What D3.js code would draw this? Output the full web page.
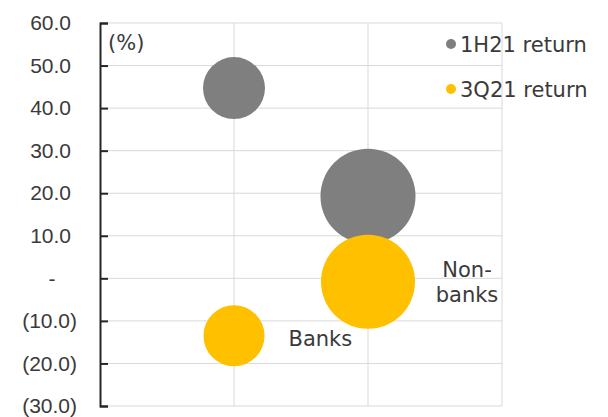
<!DOCTYPE html>
<html>
<head>
<meta charset="utf-8">
<script src="https://cdn.jsdelivr.net/npm/d3@7"></script>
<style>
  html, body { margin: 0; padding: 0; background: #fff; }
  svg { display: block; font-family: "DejaVu Sans", sans-serif; }
</style>
</head>
<body>
<svg id="chart" width="608" height="417"></svg>
<script>
'use strict';

// Bubble chart: 1H21 vs 3Q21 return, banks and non-banks.

const categories = ['Banks', 'Non-banks'];
const categoryPos = [1, 2];

const series = ['1H21 return', '3Q21 return'];
const return1H21 = [44.7, 19.3];
const return3Q21 = [-13.5, -0.8];
// relative bubble sizes
const size1H21 = [1.0, 2.35];
const size3Q21 = [0.97, 2.3];

const yTicks = [-30, -20, -10, 0, 10, 20, 30, 40, 50, 60];

const COLORS = {
  grey: '#7f7f7f',
  yellow: '#ffc000',
  grid: '#d9d9d9',
  axis: '#262626',
  text: '#3a3a3a'
};

const W = 608, H = 417;
const plot = { left: 100, right: 502, top: 23, bottom: 406 };

const svg = d3.select('#chart');

const x = d3.scaleLinear().domain([0, 3]).range([plot.left, plot.right]);
const y = d3.scaleLinear().domain([-30, 60]).range([plot.bottom, plot.top]);
const r = d3.scaleSqrt().domain([0, 1]).range([0, 31]);

// ---- grid ----
const grid = svg.append('g');
grid.selectAll('line.h').data(yTicks).join('line')
  .attr('x1', plot.left).attr('x2', plot.right)
  .attr('y1', d => y(d)).attr('y2', d => y(d))
  .attr('stroke', COLORS.grid).attr('stroke-width', 1);
grid.selectAll('line.v').data([1, 2, 3]).join('line')
  .attr('x1', d => x(d)).attr('x2', d => x(d))
  .attr('y1', plot.top).attr('y2', plot.bottom)
  .attr('stroke', COLORS.grid).attr('stroke-width', 1);

// ---- bubbles ----
const rows = [];
categories.forEach((c, i) => {
  rows.push({ cat: c, pos: categoryPos[i], val: return1H21[i], size: size1H21[i], color: COLORS.grey });
});
categories.forEach((c, i) => {
  rows.push({ cat: c, pos: categoryPos[i], val: return3Q21[i], size: size3Q21[i], color: COLORS.yellow });
});

svg.append('g').selectAll('circle').data(rows).join('circle')
  .attr('cx', d => x(d.pos))
  .attr('cy', d => y(d.val))
  .attr('r', d => r(d.size))
  .attr('fill', d => d.color);

// ---- y axis ----
function fmt(v) {
  if (v === 0) return '-';
  if (v < 0) return '(' + d3.format('.1f')(-v) + ')';
  return d3.format('.1f')(v);
}

const yAxis = svg.append('g')
  .attr('transform', `translate(${plot.left},0)`)
  .call(d3.axisLeft(y).tickValues(yTicks).tickFormat(fmt)
    .tickSizeInner(-8).tickSizeOuter(-8).tickPadding(0));

yAxis.select('.domain').attr('stroke', COLORS.axis).attr('stroke-width', 2);
yAxis.selectAll('.tick line').attr('stroke', COLORS.axis).attr('stroke-width', 2);
yAxis.selectAll('.tick text')
  .attr('fill', COLORS.text)
  .style('font-size', '21px')
  .attr('text-anchor', d => d === 0 ? 'middle' : 'end')
  .attr('x', d => d === 0 ? -48 : (d < 0 ? -23 : -29));

svg.append('text')
  .attr('x', 108).attr('y', 50)
  .attr('fill', COLORS.text).style('font-size', '21px')
  .text('(%)');

// ---- data labels ----
const lab = svg.append('g').attr('fill', COLORS.text).style('font-size', '21px');
lab.append('text')
  .attr('x', x(categoryPos[0]) + r(size3Q21[0]) + 24)
  .attr('y', y(return3Q21[0]) + 10)
  .text('Banks');
const nb = lab.append('text')
  .attr('text-anchor', 'middle')
  .attr('x', x(categoryPos[1]) + r(size3Q21[1]) + 52)
  .attr('y', y(return3Q21[1]) - 5);
nb.append('tspan').text('Non-');
nb.append('tspan').attr('x', x(categoryPos[1]) + r(size3Q21[1]) + 52).attr('dy', 25).text('banks');

// ---- legend ----
const legend = svg.append('g').selectAll('g').data(series).join('g')
  .attr('transform', (d, i) => `translate(451,${52 + i * 45})`);
legend.append('circle')
  .attr('cx', 0).attr('cy', -8).attr('r', 5)
  .attr('fill', (d, i) => i === 0 ? COLORS.grey : COLORS.yellow);
legend.append('text')
  .attr('x', 9).attr('y', 0)
  .attr('fill', COLORS.text).style('font-size', '21px')
  .text(d => d);
</script>
</body>
</html>
